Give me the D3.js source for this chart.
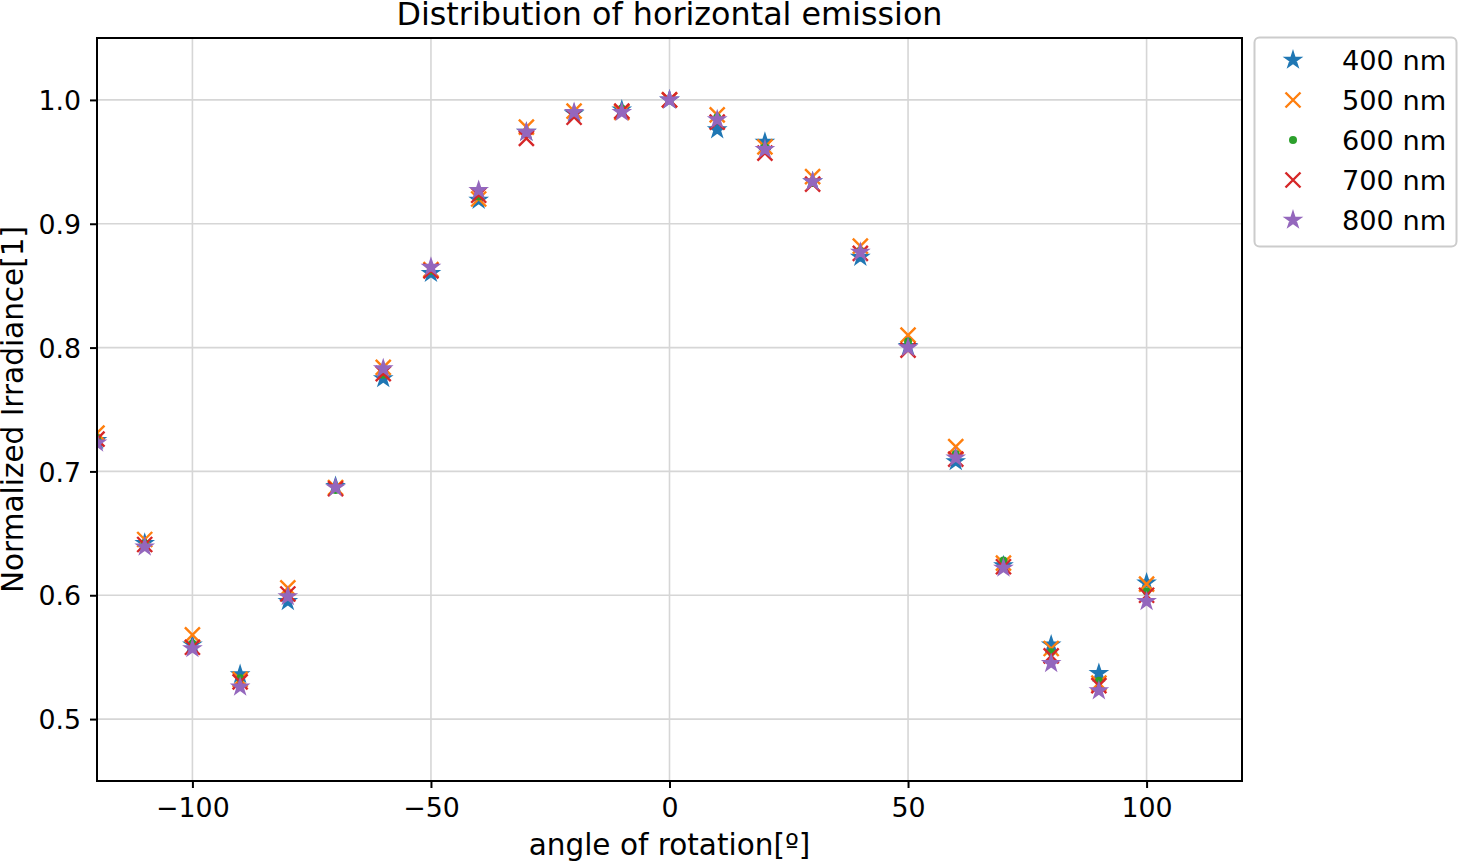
<!DOCTYPE html>
<html>
<head>
<meta charset="utf-8">
<script src="https://cdn.jsdelivr.net/npm/d3@7"></script>
<style>
  html, body { margin: 0; padding: 0; background: #fff; }
  svg { display: block; }
  text { font-family: "DejaVu Sans", sans-serif; fill: #000; }
</style>
</head>
<body>
<svg id="chart" width="1459" height="862"></svg>
<script>
// ---- data ----
const angles = [-120, -110, -100, -90, -80, -70, -60, -50, -40, -30, -20, -10, 0, 10, 20, 30, 40, 50, 60, 70, 80, 90, 100];
const nm400 = [0.725, 0.642, 0.560, 0.536, 0.595, 0.688, 0.775, 0.860, 0.919, 0.974, 0.989, 0.992, 1.000, 0.976, 0.966, 0.934, 0.873, 0.801, 0.708, 0.624, 0.560, 0.537, 0.610];
const nm500 = [0.731, 0.645, 0.568, 0.532, 0.606, 0.687, 0.784, 0.863, 0.920, 0.978, 0.991, 0.990, 1.000, 0.988, 0.962, 0.938, 0.882, 0.810, 0.720, 0.626, 0.557, 0.529, 0.609];
const nm600 = [0.727, 0.642, 0.561, 0.533, 0.600, 0.685, 0.778, 0.862, 0.922, 0.972, 0.989, 0.993, 1.000, 0.986, 0.962, 0.933, 0.878, 0.805, 0.714, 0.628, 0.554, 0.531, 0.603];
const nm700 = [0.726, 0.641, 0.558, 0.530, 0.601, 0.686, 0.779, 0.862, 0.923, 0.969, 0.986, 0.991, 1.000, 0.982, 0.957, 0.932, 0.876, 0.798, 0.710, 0.623, 0.551, 0.527, 0.600];
const nm800 = [0.723, 0.639, 0.557, 0.526, 0.599, 0.687, 0.783, 0.865, 0.927, 0.974, 0.990, 0.990, 1.000, 0.984, 0.960, 0.934, 0.877, 0.800, 0.711, 0.622, 0.545, 0.523, 0.595];
const seriesNames = ["400 nm", "500 nm", "600 nm", "700 nm", "800 nm"];
const seriesValues = [nm400, nm500, nm600, nm700, nm800];
const seriesMarkers = ["star", "x", "dot", "x", "star"];
const seriesColors = ["#1f77b4", "#ff7f0e", "#2ca02c", "#d62728", "#9467bd"];
const xTicks = [-100, -50, 0, 50, 100];
const yTicks = [0.5, 0.6, 0.7, 0.8, 0.9, 1.0];
const titleText = "Distribution of horizontal emission";
const xLabel = "angle of rotation[º]";
const yLabel = "Normalized Irradiance[1]";

// ---- layout ----
const svg = d3.select("#chart");
const L = 97, R = 1242, T = 38, B = 781;
const x = d3.scaleLinear().domain([-120, 120]).range([L, R]);
const y = d3.scaleLinear().domain([0.45, 1.05]).range([B, T]);

// marker paths
function starPath(Ro) {
  const Ri = Ro * 0.381966;
  const pts = [];
  for (let i = 0; i < 10; i++) {
    const r = i % 2 === 0 ? Ro : Ri;
    const a = -Math.PI / 2 + i * Math.PI / 5;
    pts.push([r * Math.cos(a), r * Math.sin(a)]);
  }
  return "M" + pts.map(p => p[0].toFixed(2) + "," + p[1].toFixed(2)).join("L") + "Z";
}
const S = 7.5;
function drawMarker(g, type, color) {
  if (type === "star") {
    g.append("path").attr("d", starPath(S - 0.5))
      .attr("fill", color).attr("stroke", color).attr("stroke-width", 2.4).attr("stroke-linejoin", "miter");
  } else if (type === "x") {
    g.append("path").attr("d", `M${-S},${-S}L${S},${S}M${-S},${S}L${S},${-S}`)
      .attr("fill", "none").attr("stroke", color).attr("stroke-width", 2.4);
  } else {
    g.append("circle").attr("r", 4).attr("fill", color);
  }
}

// clip
svg.append("defs").append("clipPath").attr("id", "clip")
  .append("rect").attr("x", L).attr("y", T).attr("width", R - L).attr("height", B - T);

// grid
const grid = svg.append("g");
grid.selectAll(".gx").data(xTicks).join("line")
  .attr("x1", d => x(d)).attr("x2", d => x(d)).attr("y1", T).attr("y2", B)
  .attr("stroke", "#d6d6d6").attr("stroke-width", 1.6);
grid.selectAll(".gy").data(yTicks).join("line")
  .attr("y1", d => y(d)).attr("y2", d => y(d)).attr("x1", L).attr("x2", R)
  .attr("stroke", "#d6d6d6").attr("stroke-width", 1.6);

// data
const plot = svg.append("g").attr("clip-path", "url(#clip)");
seriesValues.forEach((vals, si) => {
  const g = plot.append("g");
  angles.forEach((a, i) => {
    const m = g.append("g").attr("transform", `translate(${x(a)},${y(vals[i])})`);
    drawMarker(m, seriesMarkers[si], seriesColors[si]);
  });
});

// axes
const fmtX = d => d < 0 ? "\u2212" + Math.abs(d) : String(d);
const xAxis = svg.append("g").attr("transform", `translate(0,${B})`)
  .call(d3.axisBottom(x).tickValues(xTicks).tickFormat(fmtX).tickSize(7).tickPadding(10));
const yAxis = svg.append("g").attr("transform", `translate(${L},0)`)
  .call(d3.axisLeft(y).tickValues(yTicks).tickFormat(d3.format(".1f")).tickSize(7).tickPadding(9));
[xAxis, yAxis].forEach(ax => {
  ax.select(".domain").remove();
  ax.selectAll(".tick line").attr("stroke", "#000").attr("stroke-width", 2);
  ax.selectAll(".tick text").attr("font-family", "DejaVu Sans").attr("font-size", 26.8).attr("fill", "#000");
});
yAxis.selectAll(".tick text").attr("dy", "0.36em");

// frame
svg.append("rect").attr("x", L).attr("y", T).attr("width", R - L).attr("height", B - T)
  .attr("fill", "none").attr("stroke", "#000").attr("stroke-width", 2);

// title & labels
svg.append("text").attr("x", (L + R) / 2).attr("y", 25).attr("text-anchor", "middle")
  .attr("font-size", 31.8).text(titleText);
svg.append("text").attr("x", (L + R) / 2).attr("y", 855).attr("text-anchor", "middle")
  .attr("font-size", 29.5).text(xLabel);
svg.append("text").attr("transform", `translate(23,${(T + B) / 2}) rotate(-90)`).attr("text-anchor", "middle")
  .attr("font-size", 29.5).text(yLabel);

// legend
const leg = svg.append("g");
leg.append("rect").attr("x", 1254.5).attr("y", 37.5).attr("width", 202).attr("height", 209).attr("rx", 5)
  .attr("fill", "#fff").attr("fill-opacity", 0.8).attr("stroke", "#cccccc").attr("stroke-width", 2);
seriesNames.forEach((nm, i) => {
  const cy = 60 + i * 40;
  const m = leg.append("g").attr("transform", `translate(1293,${cy})`);
  drawMarker(m, seriesMarkers[i], seriesColors[i]);
  leg.append("text").attr("x", 1342).attr("y", cy).attr("dy", "0.36em").attr("font-size", 27.2).text(nm);
});
</script>
</body>
</html>
